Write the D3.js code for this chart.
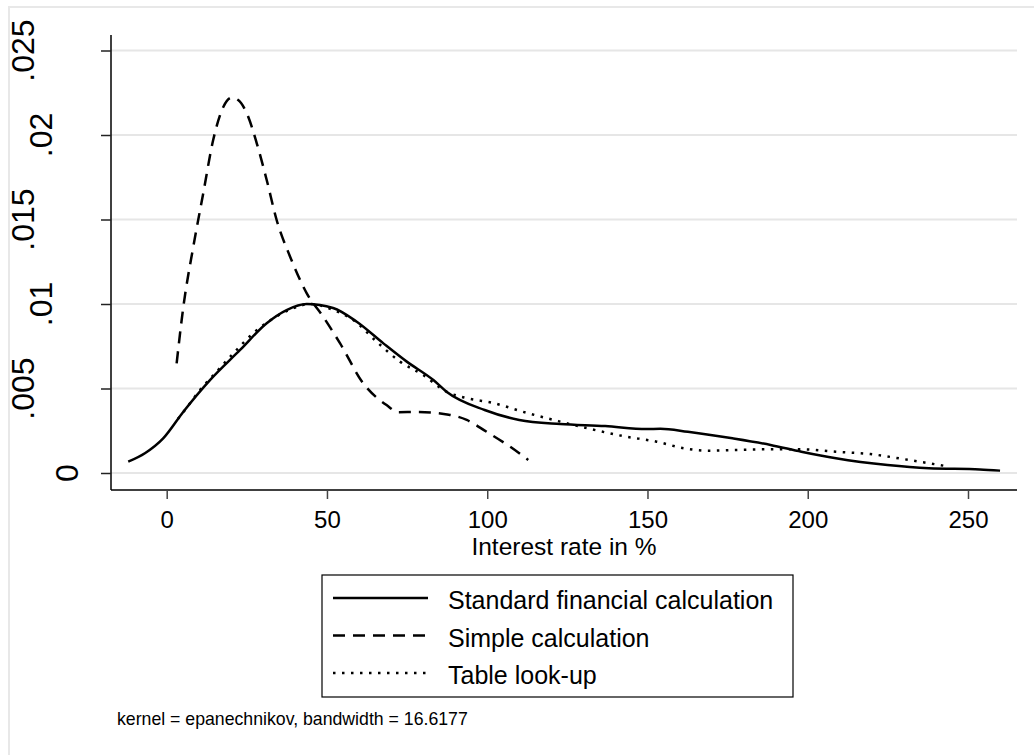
<!DOCTYPE html>
<html lang="en">
<head>
    <meta charset="utf-8">
    <title>Kernel density of interest rates</title>
    <script src="https://d3js.org/d3.v7.min.js"></script>
    <style>
        body { margin: 0; background: #fff; }
        text { font-family: "Liberation Sans", Arial, sans-serif; fill: #000; }
    </style>
</head>
<body>
<div id="chart"></div>
<script>
    // values (x = interest rate in %, y = density)
    const standardX = [-12, -6.8, -1.1, 5.2, 13.5, 22.9, 31.2, 37.4, 43.7, 51.9, 59.3, 67.6, 74.9, 83.2, 87.3, 99.2,
        110, 122.8, 136.8, 149.7, 154, 162.6, 176.5, 188.4, 198, 208.8, 224.9, 237.8, 253.7, 260];
    const standardY = [0.00067, 0.00117, 0.00205, 0.00363, 0.0055, 0.00728, 0.00886, 0.00964, 0.0100, 0.00976, 0.00895,
        0.00767, 0.00659, 0.0055, 0.00481, 0.00373, 0.00314, 0.0029, 0.00278, 0.0026, 0.00262, 0.00244, 0.00205,
        0.00166, 0.00126, 0.00087, 0.00047, 0.00028, 0.00021, 0.00014];

    const simpleX = [3.1, 5.2, 8.3, 11.4, 14.5, 17.7, 20.3, 22.3, 25, 28.1, 31.2, 34.3, 38.5, 43.7, 48.8, 54.1,
        61.3, 68.6, 72.3, 78, 88, 93.6, 99.8, 107.1, 112.8];
    const simpleY = [0.00649, 0.00984, 0.01339, 0.01655, 0.0197, 0.02167, 0.02221, 0.02207, 0.02128, 0.01951, 0.01734,
        0.01497, 0.0128, 0.01063, 0.00925, 0.00767, 0.00531, 0.00402, 0.0036, 0.00361, 0.00345, 0.00314, 0.00244,
        0.00156, 0.00077];

    const tableX = [3.5, 5.7, 10.4, 15.6, 20.8, 27, 33.3, 39.5, 44.7, 52, 58.2, 65.5, 72.8, 80, 87.3, 93.8, 101.4,
        112.1, 122.8, 131.4, 142.2, 152.9, 161.5, 169, 177.6, 187.3, 198, 208.8, 219.5, 230.3, 243.1];
    const tableY = [0.0032, 0.00373, 0.00491, 0.006, 0.00708, 0.00827, 0.00915, 0.00975, 0.0100, 0.00964, 0.00905,
        0.00777, 0.00659, 0.0058, 0.00481, 0.00442, 0.00416, 0.00357, 0.00304, 0.00264, 0.00219, 0.00185, 0.00146,
        0.00132, 0.00136, 0.0014, 0.0014, 0.00126, 0.00112, 0.00081, 0.00041];

    const xTicks = [0, 50, 100, 150, 200, 250];
    const yTicks = [0, 0.005, 0.01, 0.015, 0.02, 0.025];
    const yTickLabels = ["0", ".005", ".01", ".015", ".02", ".025"];

    const seriesNames = ["Standard financial calculation", "Simple calculation", "Table look-up"];
    const seriesDash = [null, "12,8", "2.5,6.5"];

    const width = 1034, height = 755;
    const plot = {left: 111, right: 1017, top: 35, bottom: 490};

    const svg = d3.select("#chart").append("svg")
        .attr("width", width)
        .attr("height", height);

    // outer graph frame (only top/left edge visible)
    svg.append("rect")
        .attr("x", 9).attr("y", 7)
        .attr("width", 1100).attr("height", 900)
        .attr("fill", "none")
        .attr("stroke", "#e8e8e8")
        .attr("stroke-width", 2);

    const x = d3.scaleLinear().domain([0, 250]).range([166.7, 968]);
    const y = d3.scaleLinear().domain([0, 0.025]).range([473, 50.5]);

    // grid
    svg.append("g")
        .selectAll("line")
        .data(yTicks)
        .join("line")
        .attr("x1", plot.left).attr("x2", plot.right)
        .attr("y1", d => y(d)).attr("y2", d => y(d))
        .attr("stroke", "#e6e6e6")
        .attr("stroke-width", 2);

    // y axis
    const yAxis = svg.append("g")
        .attr("transform", `translate(${plot.left},0)`)
        .call(d3.axisLeft(y).tickValues(yTicks).tickSize(10).tickSizeOuter(0).tickFormat(""));
    yAxis.select(".domain").attr("d", `M0,${plot.top}V${plot.bottom}`).attr("stroke", "#000").attr("stroke-width", 1.5);
    yAxis.selectAll(".tick line").attr("stroke", "#222").attr("stroke-width", 1.5);

    // rotated y labels, Stata-style placement
    const yLab = svg.append("g")
        .selectAll("text")
        .data(yTicks)
        .join("text")
        .attr("font-size", 32)
        .attr("text-anchor", "middle")
        .attr("dy", "0.35em")
        .text((d, i) => yTickLabels[i]);
    yLab.attr("transform", function(d) {
        const len = this.getComputedTextLength();
        return `translate(${85 - len},${y(d)}) rotate(-90)`;
    });

    // x axis
    const xAxis = svg.append("g")
        .attr("transform", `translate(0,${plot.bottom})`)
        .call(d3.axisBottom(x).tickValues(xTicks).tickSize(9).tickSizeOuter(0).tickPadding(12));
    xAxis.select(".domain").attr("d", `M${plot.left},0H${plot.right}`).attr("stroke", "#000").attr("stroke-width", 1.5);
    xAxis.selectAll(".tick line").attr("stroke", "#444").attr("stroke-width", 1.5);
    xAxis.selectAll(".tick text")
        .attr("font-size", 24)
        .attr("font-family", "Liberation Sans, Arial, sans-serif")
        .attr("fill", "#000");

    svg.append("text")
        .attr("x", (plot.left + plot.right) / 2)
        .attr("y", 555)
        .attr("text-anchor", "middle")
        .attr("font-size", 24.5)
        .text("Interest rate in %");

    // curves
    const line = d3.line()
        .x(d => x(d[0]))
        .y(d => y(d[1]))
        .curve(d3.curveMonotoneX);

    const series = [
        d3.zip(standardX, standardY),
        d3.zip(simpleX, simpleY),
        d3.zip(tableX, tableY)
    ];

    svg.append("g")
        .attr("fill", "none")
        .attr("stroke", "#000")
        .attr("stroke-width", 2.5)
        .selectAll("path")
        .data(series)
        .join("path")
        .attr("stroke-dasharray", (d, i) => seriesDash[i])
        .attr("d", line);

    // legend
    const legend = svg.append("g");
    legend.append("rect")
        .attr("x", 322).attr("y", 575)
        .attr("width", 471).attr("height", 122)
        .attr("fill", "none")
        .attr("stroke", "#000")
        .attr("stroke-width", 1.2);

    const rowY = d3.scalePoint().domain(seriesNames).range([598, 673]);
    const rows = legend.selectAll("g.row")
        .data(seriesNames)
        .join("g")
        .attr("class", "row")
        .attr("transform", d => `translate(0,${rowY(d)})`);
    rows.append("line")
        .attr("x1", 333).attr("x2", 428)
        .attr("stroke", "#000")
        .attr("stroke-width", 2.5)
        .attr("stroke-dasharray", (d, i) => seriesDash[i]);
    rows.append("text")
        .attr("x", 448)
        .attr("y", 11)
        .attr("font-size", 25)
        .text(d => d);

    svg.append("text")
        .attr("x", 117)
        .attr("y", 725)
        .attr("font-size", 17.7)
        .text("kernel = epanechnikov, bandwidth = 16.6177");
</script>
</body>
</html>
